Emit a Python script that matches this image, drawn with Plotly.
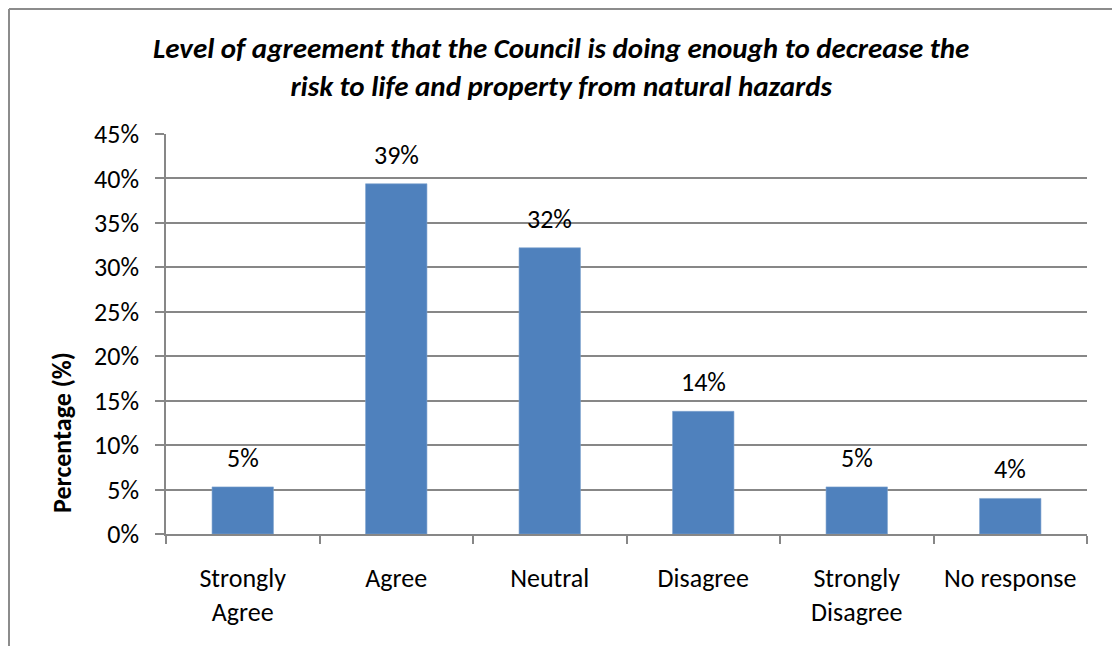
import plotly.graph_objects as go

# Survey responses
categories = ["Strongly<br>Agree", "Agree", "Neutral", "Disagree", "Strongly<br>Disagree", "No response"]
percentages = [5.3, 39.4, 32.2, 13.8, 5.3, 4.0]
y_ticks = [0, 5, 10, 15, 20, 25, 30, 35, 40, 45]
y_tick_labels = [f"{t}%" for t in y_ticks]

title_text = ("Level of agreement that the Council is doing enough to decrease the<br>"
              "risk to life and property from natural hazards")

FONT = "Carlito, Calibri, Lato, sans-serif"
GRID = "#878787"
BAR = "#4F81BD"
FS = 26

W, H = 1112, 646
L, R, T, B = 166, 25, 134, 112
pw, ph = W - L - R, H - T - B

def px_x(x):
    return (x - L) / pw

def px_y(y):
    return (H - B - y) / ph

fig = go.Figure(
    go.Bar(
        x=categories,
        y=percentages,
        marker=dict(color=BAR, line=dict(color="#7DA2CF", width=0.6)),
        width=0.4,
        hoverinfo="skip",
    )
)

# Value labels above each bar
for cat, val in zip(categories, percentages):
    fig.add_annotation(
        x=cat, y=val, xref="x", yref="y",
        text=f"{round(val)}%", showarrow=False,
        yanchor="bottom", yshift=11,
        font=dict(family=FONT, size=FS, color="#000000"),
    )

# Chart title (two lines)
fig.add_annotation(
    x=px_x(561), y=px_y(67), xref="paper", yref="paper",
    text=f"<b><i>{title_text}</i></b>", showarrow=False,
    xanchor="center", yanchor="middle", align="center",
    font=dict(family=FONT, size=29, color="#000000"),
)

# Vertical axis title
fig.add_annotation(
    x=px_x(62), y=px_y(433), xref="paper", yref="paper",
    text="<b>Percentage (%)</b>", textangle=-90, showarrow=False,
    xanchor="center", yanchor="middle",
    font=dict(family=FONT, size=FS, color="#000000"),
)

# Chart border (top and left edges)
fig.add_shape(
    type="line", xref="paper", yref="paper",
    x0=px_x(9), y0=px_y(9), x1=px_x(1112), y1=px_y(9),
    line=dict(color="#8C8C8C", width=2),
)
fig.add_shape(
    type="line", xref="paper", yref="paper",
    x0=px_x(9), y0=px_y(9), x1=px_x(9), y1=px_y(646),
    line=dict(color="#8C8C8C", width=2),
)

fig.update_layout(
    width=W, height=H,
    margin=dict(l=L, r=R, t=T, b=B),
    paper_bgcolor="white", plot_bgcolor="white",
    showlegend=False,
    font=dict(family=FONT, size=FS, color="#000000"),
    bargap=0.6,
)

fig.update_xaxes(
    type="category",
    showline=True, linecolor=GRID, linewidth=1.5,
    ticks="outside", tickson="boundaries", ticklen=8, tickcolor=GRID, tickwidth=1.5,
    ticklabelstandoff=20,
    showgrid=False,
    tickfont=dict(family=FONT, size=FS, color="#000000"),
)

fig.update_yaxes(
    range=[0, 45],
    tickvals=y_ticks, ticktext=y_tick_labels,
    showline=True, linecolor=GRID, linewidth=1.5,
    ticks="outside", ticklen=9, tickcolor=GRID, tickwidth=1.5,
    ticklabelstandoff=11,
    showgrid=True, gridcolor=GRID, gridwidth=1.5,
    zeroline=False,
    tickfont=dict(family=FONT, size=FS, color="#000000"),
)

fig.write_html("out.html")
